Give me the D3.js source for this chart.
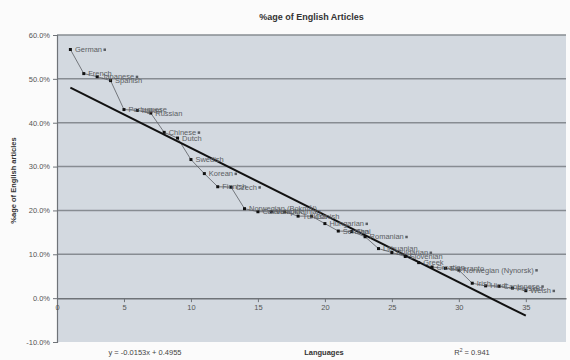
<!DOCTYPE html>
<html><head><meta charset="utf-8">
<script src="https://cdn.jsdelivr.net/npm/d3@7"></script>
<style>
html,body{margin:0;padding:0;background:#fbfbfb;}
svg{display:block;font-family:"Liberation Sans",Arial,sans-serif;}
</style></head>
<body>
<svg id="c" width="570" height="360"></svg>
<script>
const ranks = [1,2,3,4,5,6,7,8,9,10,11,12,13,14,15,16,17,18,19,20,21,22,23,24,25,26,27,28,29,30,31,32,33,34,35];
const languages = ["German","French","Japanese","Spanish","Portuguese","Italian","Russian","Chinese","Dutch","Swedish","Korean","Finnish","Czech","Norwegian (Bokmål)","Catalan","Volapük","Ukrainian","Turkish","Danish","Hungarian","Serbian","Thai","Romanian","Lithuanian","Bulgarian","Slovenian","Greek","Croatian","Esperanto","Norwegian (Nynorsk)","Irish","Hindi","Cantonese","Persian","Welsh"];
const englishShare = [0.567,0.512,0.505,0.496,0.430,0.428,0.422,0.378,0.365,0.316,0.284,0.254,0.253,0.204,0.197,0.197,0.197,0.187,0.187,0.170,0.153,0.152,0.140,0.113,0.104,0.095,0.081,0.071,0.068,0.064,0.034,0.028,0.027,0.023,0.017];
const keyed = [1,0,1,0,0,0,0,1,0,0,1,0,1,0,0,0,0,0,0,1,0,0,1,0,1,0,0,0,0,1,0,0,1,0,1];
const trendSlope = -0.0153, trendIntercept = 0.4955, rSquared = 0.941;
const xTicks = [0,5,10,15,20,25,30,35];
const yTicks = [-0.1,0,0.1,0.2,0.3,0.4,0.5,0.6];
const yTickLabels = ["-10.0%","0.0%","10.0%","20.0%","30.0%","40.0%","50.0%","60.0%"];

const svg = d3.select("#c");
const L = 57, R = 566, T = 35, B = 342;
const x = d3.scaleLinear().domain([0,38]).range([L,R]);
const y = d3.scaleLinear().domain([-0.1,0.6]).range([B,T]);

svg.append("rect").attr("width",570).attr("height",360).attr("fill","#fbfbfb");
svg.append("rect").attr("x",L).attr("y",T).attr("width",R-L).attr("height",B-T).attr("fill","#d3d9e0");

// gridlines
svg.append("g").selectAll("line").data(yTicks.filter(d=>d!==0 && d!==-0.1)).join("line")
  .attr("x1",L).attr("x2",R).attr("y1",d=>y(d)).attr("y2",d=>y(d))
  .attr("stroke","#878c92").attr("stroke-width",1.5);

// y axis
const ya = svg.append("g").attr("transform",`translate(${L},0)`)
  .call(d3.axisLeft(y).tickValues(yTicks).tickSize(4).tickPadding(3).tickFormat((d,i)=>yTickLabels[i]));
ya.select(".domain").attr("stroke","#6f7378").attr("stroke-width",1.2);
ya.selectAll(".tick line").attr("stroke","#6f7378");
ya.selectAll("text").attr("font-size",7.5).attr("fill","#555");

// x axis at y=0
const xa = svg.append("g").attr("transform",`translate(0,${y(0)})`)
  .call(d3.axisBottom(x).tickValues(xTicks).tickSize(4).tickPadding(3).tickSizeOuter(0));
xa.select(".domain").attr("stroke","#6f7378").attr("stroke-width",1.5);
xa.selectAll(".tick line").attr("stroke","#6f7378");
xa.selectAll("text").attr("font-size",7.5).attr("fill","#555");

const data = ranks.map((r,i)=>({r, v:englishShare[i], name:languages[i], key:keyed[i]}));

// series line
svg.append("path").datum(data)
  .attr("d", d3.line().x(d=>x(d.r)).y(d=>y(d.v)))
  .attr("fill","none").attr("stroke","#5a5d62").attr("stroke-width",0.8);

// trendline
svg.append("line")
  .attr("x1",x(1)).attr("y1",y(trendIntercept+trendSlope*1))
  .attr("x2",x(35)).attr("y2",y(trendIntercept+trendSlope*35))
  .attr("stroke","#111").attr("stroke-width",2);

// markers
svg.append("g").selectAll("path").data(data).join("path")
  .attr("transform",d=>`translate(${x(d.r)},${y(d.v)})`)
  .attr("d", d3.symbol().type(d3.symbolSquare).size(9))
  .attr("fill","#111");

// labels
const lg = svg.append("g");
data.forEach(d=>{
  const t = lg.append("text").attr("x",x(d.r)+4.5).attr("y",y(d.v)+2.6)
    .attr("font-size",7.5).attr("fill","#5b5e63").text(d.name);
  if (d.key) {
    const w = t.node().getComputedTextLength();
    lg.append("rect").attr("x",x(d.r)+4.5+w+1.5).attr("y",y(d.v)-1).attr("width",2.5).attr("height",2.5).attr("fill","#5b5e63");
  }
});

// titles
svg.append("text").attr("x",(L+R)/2).attr("y",20).attr("text-anchor","middle")
  .attr("font-size",9).attr("font-weight","bold").attr("fill","#333").text("%age of English Articles");
svg.append("text").attr("transform",`translate(16,${(T+B)/2-8}) rotate(-90)`).attr("text-anchor","middle")
  .attr("font-size",7.5).attr("font-weight","bold").attr("fill","#333").text("%age of English articles");
svg.append("text").attr("x",324).attr("y",355).attr("text-anchor","middle")
  .attr("font-size",7.5).attr("font-weight","bold").attr("fill","#333").text("Languages");
svg.append("text").attr("x",145).attr("y",355).attr("text-anchor","middle")
  .attr("font-size",7.5).attr("fill","#444").text(`y = ${trendSlope}x + ${trendIntercept}`);
const rt = svg.append("text").attr("x",472).attr("y",355).attr("text-anchor","middle")
  .attr("font-size",7.5).attr("fill","#444");
rt.append("tspan").text("R");
rt.append("tspan").attr("dy",-3).attr("font-size",5).text("2");
rt.append("tspan").attr("dy",3).text(` = ${rSquared}`);
</script>
</body></html>
